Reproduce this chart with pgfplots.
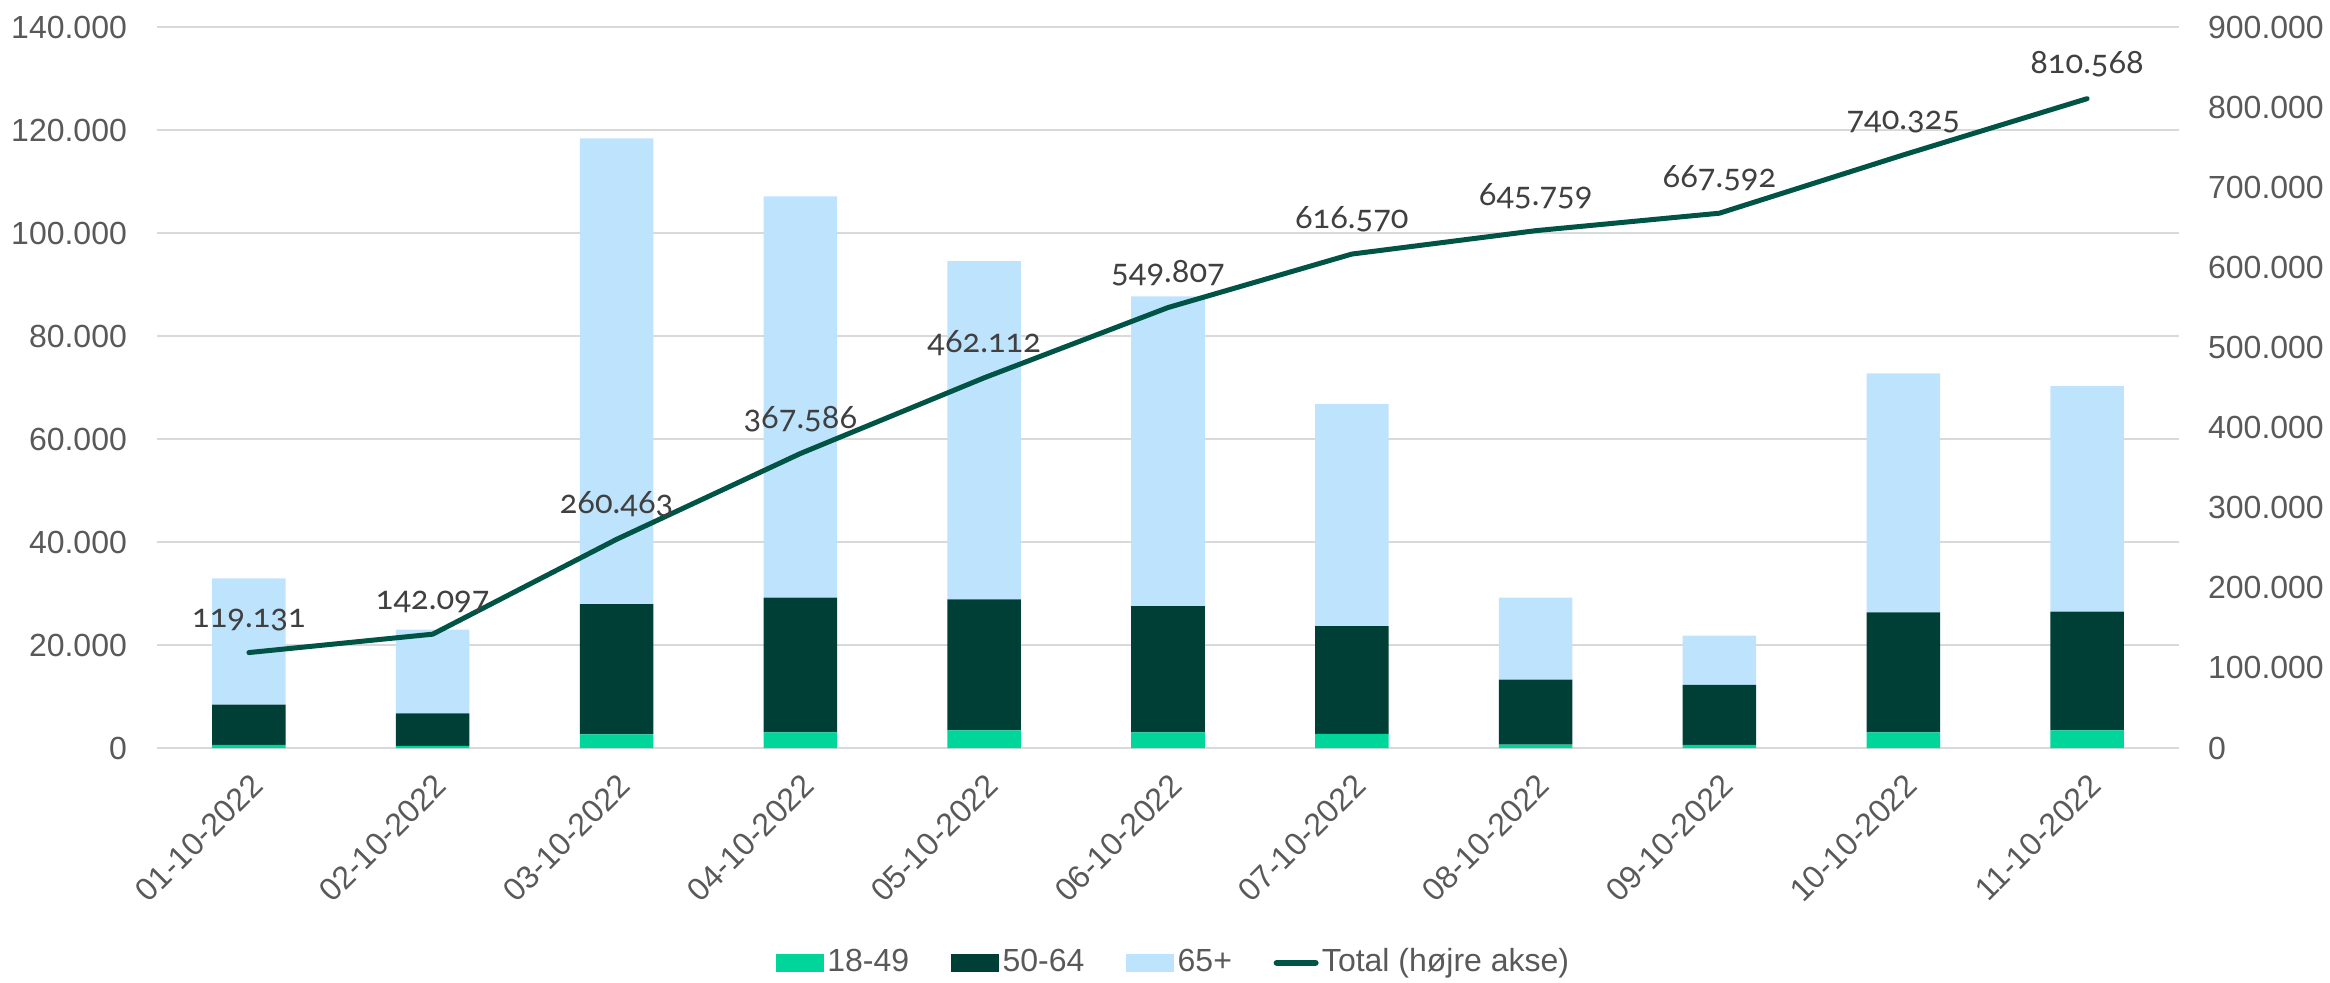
\documentclass[border=0pt]{standalone}
\usepackage{pgfplots}
\usepackage{pgfplotstable}
\pgfplotsset{compat=1.18}
\usepackage{fontspec}
\setmainfont{Liberation Sans}
\newfontfamily\labelfont[Numbers=OldStyle]{Lato}
\definecolor{cYoung}{HTML}{00D69A}
\definecolor{cMid}{HTML}{003F36}
\definecolor{cOld}{HTML}{BEE3FD}
\definecolor{cLine}{HTML}{005446}
\definecolor{cTick}{HTML}{595959}
\definecolor{cLab}{HTML}{404040}
\definecolor{cGrid}{HTML}{D9D9D9}

\pgfplotstableread{
x young mid old
0  600  7800 24525
1  400  6300 16266
2 2640 25300 90426
3 3020 26200 77903
4 3400 25450 65676
5 3020 24550 60125
6 2740 20940 43083
7  650 12650 15889
8  600 11650  9583
9 3020 23300 46413
10 3400 23100 43743
}\bars

\begin{document}
\begin{tikzpicture}[font=\fontsize{9.6pt}{11.5pt}\selectfont]
\pgfplotsset{
  base/.style={
    at={(0,0)}, anchor=south west, scale only axis,
    width=606.6pt, height=216.3pt,
    xmin=-0.5, xmax=10.5, ymin=0,
    axis line style={draw=none},
    major tick length=0pt,
    tick label style={text=cTick, font=\fontsize{9.6pt}{11.5pt}\selectfont},
    scaled y ticks=false,
    /pgf/number format/fixed,
    /pgf/number format/precision=0,
    /pgf/number format/1000 sep={.},
    /pgf/number format/assume math mode=true,
  },
}
\begin{axis}[base,
  ymax=140000, ytick distance=20000,
  ymajorgrids, grid style={cGrid, line width=0.6pt},
  xtick={0,...,10},
  xticklabels={01-10-2022,02-10-2022,03-10-2022,04-10-2022,05-10-2022,06-10-2022,07-10-2022,08-10-2022,09-10-2022,10-10-2022,11-10-2022},
  xticklabel style={yshift=-7pt, xshift=0pt, rotate=45, anchor=north east, inner sep=0pt},
  yticklabel style={xshift=-5.5pt},
  ybar stacked, bar width=0.4,
  legend cell align=left,
  legend style={at={(0.503,-0.298)}, anchor=center, draw=none, fill=none,
    legend columns=4, text=cTick, font=\fontsize{9.6pt}{11.5pt}\selectfont,
    nodes={inner sep=1pt},
    /tikz/every odd column/.append style={column sep=0pt},
    /tikz/every even column/.append style={column sep=11.5pt}},
]
\addplot[fill=cYoung, draw=none, legend image code/.code={\fill[cYoung] (0pt,-2.6pt) rectangle (14.5pt,2.6pt);}] table[x=x,y=young]{\bars};
\addlegendentry{18-49}
\addplot[fill=cMid, draw=none, legend image code/.code={\fill[cMid] (0pt,-2.6pt) rectangle (14.5pt,2.6pt);}] table[x=x,y=mid]{\bars};
\addlegendentry{50-64}
\addplot[fill=cOld, draw=none, legend image code/.code={\fill[cOld] (0pt,-2.6pt) rectangle (14.5pt,2.6pt);}] table[x=x,y=old]{\bars};
\addlegendentry{65+}
\addlegendimage{legend image code/.code={\draw[cLine, line width=2pt, line cap=round] (0.5pt,0pt) -- (12pt,0pt);}}
\addlegendentry{Total (højre akse)}
\end{axis}
\begin{axis}[base,
  ymax=900000, ytick distance=100000,
  axis y line*=right, hide x axis,
  yticklabel style={xshift=5.2pt},
]
\addplot[cLine, line width=1.5pt, line cap=round, line join=round,
  nodes near coords, point meta=explicit symbolic,
  every node near coord/.style={anchor=south, inner sep=0pt, yshift=5.8pt,
    text=cLab, font=\labelfont\fontsize{9.8pt}{11.5pt}\selectfont}]
coordinates {
(0,119131) [119.131]
(1,142097) [142.097]
(2,260463) [260.463]
(3,367586) [367.586]
(4,462112) [462.112]
(5,549807) [549.807]
(6,616570) [616.570]
(7,645759) [645.759]
(8,667592) [667.592]
(9,740325) [740.325]
(10,810568) [810.568]
};
\end{axis}
\pgfresetboundingbox
\useasboundingbox (-47.1pt,-70.2pt) rectangle (651.9pt,224.4pt);
\end{tikzpicture}
\end{document}
